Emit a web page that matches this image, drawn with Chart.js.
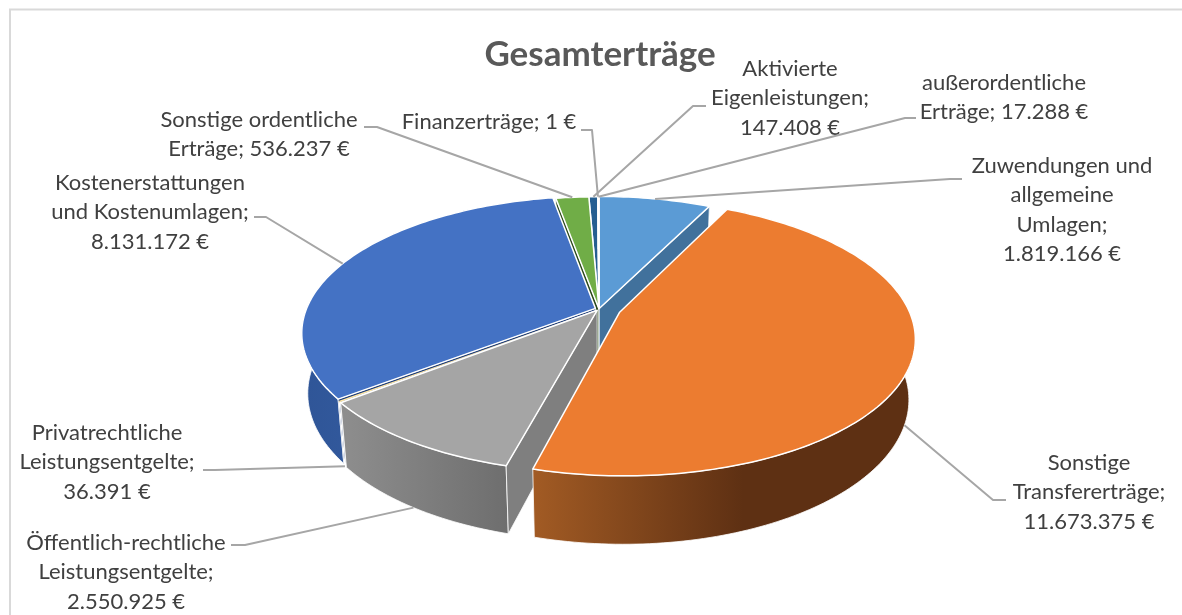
<!DOCTYPE html>
<html lang="de">
<head>
<meta charset="utf-8">
<style>html,body{margin:0;padding:0;background:#fff}#w{width:1182px;height:615px;position:relative}canvas{display:block}</style>
<script src="https://cdn.jsdelivr.net/npm/chart.js@4"></script>
</head>
<body>
<div id="w"><canvas id="c" width="1182" height="615"></canvas></div>
<script>
const categories = ["Zuwendungen und allgemeine Umlagen","Sonstige Transfererträge","Öffentlich-rechtliche Leistungsentgelte","Privatrechtliche Leistungsentgelte","Kostenerstattungen und Kostenumlagen","Sonstige ordentliche Erträge","Aktivierte Eigenleistungen","Finanzerträge","außerordentliche Erträge"];
const values = [1819166,11673375,2550925,36391,8131172,536237,147408,1,17288];
const labelLines = [
  ["Zuwendungen und","allgemeine","Umlagen;","{v}"],
  ["Sonstige","Transfererträge;","{v}"],
  ["Öffentlich-rechtliche","Leistungsentgelte;","{v}"],
  ["Privatrechtliche","Leistungsentgelte;","{v}"],
  ["Kostenerstattungen","und Kostenumlagen;","{v}"],
  ["Sonstige ordentliche","Erträge; {v}"],
  ["Aktivierte","Eigenleistungen;","{v}"],
  ["Finanzerträge; {v}"],
  ["außerordentliche","Erträge; {v}"]
];
const colors = ["#5B9BD5","#EC7C30","#A5A5A5","#FFE7A6","#4472C4","#70AD47","#255E91","#9E480E","#636363"];
const sideColors = ["#41719C","#7A3E15","#7F7F7F","#FFFFFF","#1F3D78","#2A4A1A","#1A4168","#5E2B08","#3C3C3C"];
const wallStops = [
  [[0,"#41719C"],[1,"#41719C"]],
  [[0,"#A25B24"],[0.55,"#5E3013"],[1,"#5E3013"]],
  [[0,"#8E8E8E"],[1,"#6E6E6E"]],
  [[0,"#FFFFFF"],[1,"#FFFFFF"]],
  [[0,"#2F5597"],[1,"#3D68B2"]],
  [[0,"#2A4A1A"],[1,"#2A4A1A"]],
  [[0,"#1A4168"],[1,"#1A4168"]],
  [[0,"#5E2B08"],[1,"#5E2B08"]],
  [[0,"#3C3C3C"],[1,"#3C3C3C"]]
];
const sliceOffsets = [4,90,14,14,16,0,0,0,0];
const borderWidths = [1.5,1.5,1.5,0,1.5,1.5,1.5,0,1.5];
const drawOrder = [6,7,8,5,0,4,3,2,1];

const TEXT = "#404040", LEAD = "#A6A6A6", FONT = "Lato";
const view = {cx:599, cy:309, rx:289, ry:132.5, p:0.18, q:0.02, h:60.5};
const PIE_RADIUS = 300;
/* label centre, first-line y, and the leader's elbow points (outside the pie) */
const labelPlacement = [
  {x:1062,y:166,lead:[[962,179],[950,179]],z:0},
  {x:1089,y:463,lead:[[1006,500],[993,500]],z:1},
  {x:126,y:543,lead:[[231,545],[245,545]],z:1},
  {x:107,y:433,lead:[[203,470],[215,470]],z:1},
  {x:150,y:183,lead:[[254,217],[266,217]],z:0},
  {x:259,y:120,lead:[[364,127],[377,127]],z:0},
  {x:790,y:69,lead:[[706,106],[693,106]],z:0},
  {x:489,y:122,lead:[[581,130],[592,130]],z:0},
  {x:1004,y:83,lead:[[916,118],[905,118]],z:0}
];
const LINE_H = 29.3;

function project(u,v,z){
  const w = 1 - view.p*v + view.q*z;
  return [view.cx + view.rx*u/w, view.cy + (view.ry*v + view.h*z)/w];
}
function sliceGeom(el){
  const off = (el.options.offset||0)/4/el.outerRadius;
  const mid = (el.startAngle+el.endAngle)/2;
  return {ox:Math.cos(mid)*off, oy:Math.sin(mid)*off, mid, a0:el.startAngle, a1:el.endAngle};
}
function rim(g,z){
  const n = Math.max(2,Math.ceil((g.a1-g.a0)/0.02));
  const pts=[];
  for(let i=0;i<=n;i++){
    const a=g.a0+(g.a1-g.a0)*i/n;
    pts.push(project(Math.cos(a)+g.ox,Math.sin(a)+g.oy,z));
  }
  return pts;
}
function poly(ctx,pts){
  ctx.beginPath();
  pts.forEach((p,i)=> i?ctx.lineTo(p[0],p[1]):ctx.moveTo(p[0],p[1]));
  ctx.closePath();
}
function paint(ctx,pts,fill,lw){
  poly(ctx,pts);
  ctx.fillStyle=fill; ctx.fill();
  if(lw>0){ctx.strokeStyle="#fff";ctx.lineWidth=lw;ctx.lineJoin="round";ctx.stroke();}
}
function cross(o,a,b){return (a[0]-o[0])*(b[1]-o[1])-(a[1]-o[1])*(b[0]-o[0]);}
function drawSlice(ctx,el,i){
  const g=sliceGeom(el);
  if(g.a1-g.a0<1e-4) return;
  const top=rim(g,0), bot=rim(g,1);
  const ap0=project(g.ox,g.oy,0), ap1=project(g.ox,g.oy,1);
  const lw=el.options.borderWidth, side=lw?0.8:0;
  const last=top.length-1;
  const midRim=project(Math.cos(g.mid)+g.ox,Math.sin(g.mid)+g.oy,0);
  const xs=bot.concat(top).map(p=>p[0]);
  const x0=Math.min(...xs), x1=Math.max(...xs);
  const grad=ctx.createLinearGradient(x0,0,Math.max(x1,x0+1),0);
  wallStops[i].forEach(s=>grad.addColorStop(s[0],s[1]));
  paint(ctx,top.concat(bot.slice().reverse()),grad,side);
  [[top[0],bot[0]],[top[last],bot[last]]].forEach(w=>{
    /* a cut face shows only when it extrudes away from the slice's own top face */
    if(cross(ap0,w[0],ap1)*cross(ap0,w[0],midRim)<0) paint(ctx,[ap0,w[0],w[1],ap1],sideColors[i],side);
  });
  paint(ctx,[ap0].concat(top),colors[i],lw);
}
const pie3d = {
  id:"pie3d",
  beforeDatasetsDraw(chart){
    const ctx=chart.ctx, arcs=chart.getDatasetMeta(0).data;
    ctx.save();
    /* frame */
    ctx.strokeStyle="#D9D9D9"; ctx.lineWidth=2;
    ctx.beginPath(); ctx.moveTo(10,615); ctx.lineTo(10,9.5); ctx.lineTo(1182,9.5); ctx.stroke();
    drawOrder.forEach(i=>drawSlice(ctx,arcs[i],i));
    ctx.restore();
    return false;
  },
  afterDraw(chart){
    const ctx=chart.ctx, arcs=chart.getDatasetMeta(0).data;
    const fmt=v=>v.toLocaleString("de-DE")+" €";
    ctx.save();
    arcs.forEach((el,i)=>{
      const pl=labelPlacement[i], g=sliceGeom(el);
      const end=project(Math.cos(g.mid)+g.ox,Math.sin(g.mid)+g.oy,pl.z);
      ctx.strokeStyle=LEAD; ctx.lineWidth=2; ctx.lineJoin="round";
      ctx.beginPath();
      pl.lead.forEach((p,k)=>k?ctx.lineTo(p[0],p[1]):ctx.moveTo(p[0],p[1]));
      ctx.lineTo(end[0],end[1]); ctx.stroke();
      ctx.fillStyle=TEXT; ctx.font="22px "+FONT; ctx.textAlign="center"; ctx.textBaseline="middle";
      labelLines[i].forEach((t,k)=>ctx.fillText(t.replace("{v}",fmt(values[i])),pl.x,pl.y+k*LINE_H));
    });
    ctx.restore();
  }
};
new Chart(document.getElementById("c"),{
  type:"pie",
  data:{labels:categories,datasets:[{data:values,backgroundColor:colors,borderColor:"#fff",borderWidth:borderWidths,offset:sliceOffsets}]},
  options:{
    responsive:false,animation:false,radius:PIE_RADIUS,
    layout:{padding:{left:18}},
    plugins:{
      legend:{display:false},tooltip:{enabled:false},
      title:{display:true,text:"Gesamterträge",color:"#595959",font:{family:FONT,size:35,weight:"bold"},padding:{top:34,bottom:10}}
    }
  },
  plugins:[pie3d]
});
</script>
</body>
</html>
